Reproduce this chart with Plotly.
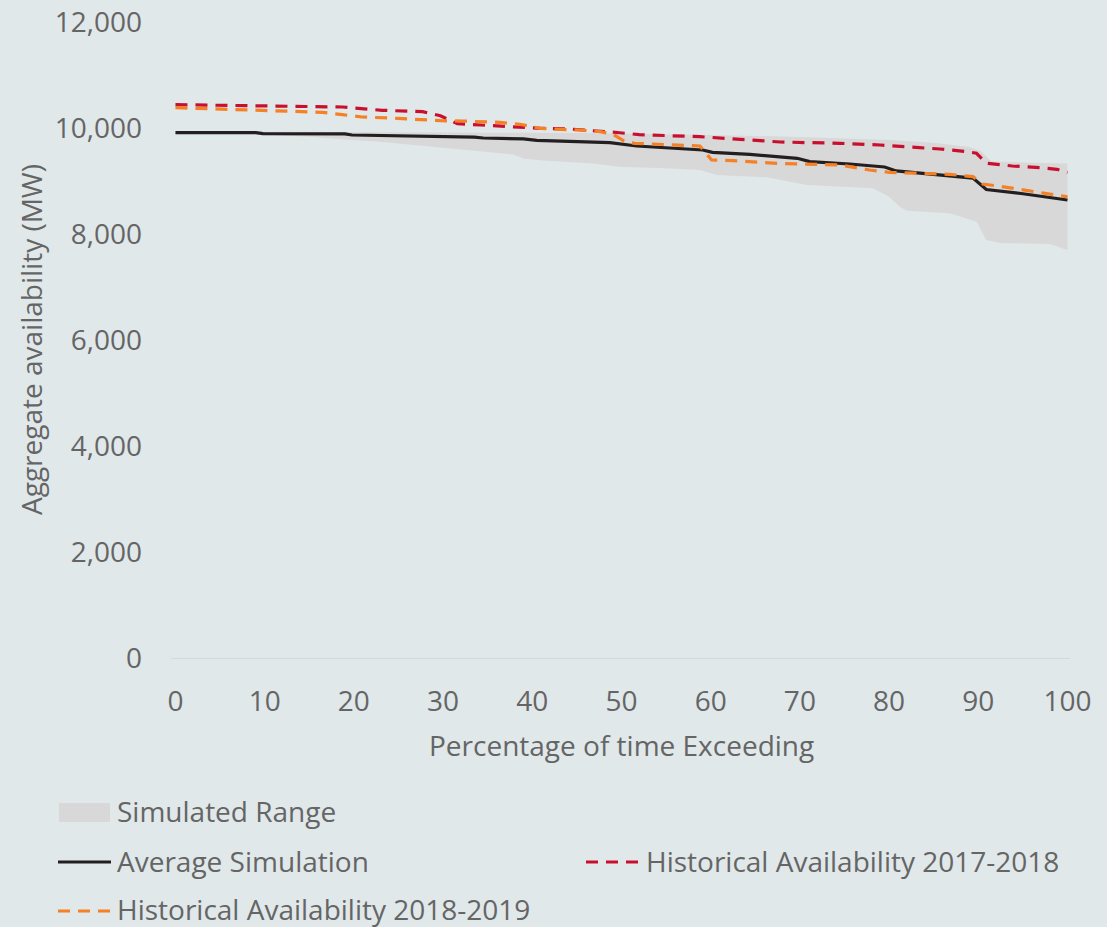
import plotly.graph_objects as go

# Exceedance curves: percentage of time (x) vs aggregate availability in MW (y)
avg_x = [0, 9, 9.8, 19, 19.8, 25, 30, 33.5, 34.5, 39, 40.5, 45, 48.7, 51.7, 56.2,
         59.1, 60.2, 64.4, 69.7, 71.1, 75.6, 79.5, 80.8, 85, 89.4, 90.9, 95, 100]
avg_y = [9912, 9912, 9893, 9890, 9868, 9855, 9836, 9828, 9811, 9795, 9765, 9745, 9723, 9660, 9617,
         9585, 9541, 9503, 9428, 9365, 9321, 9265, 9190, 9130, 9055, 8840, 8760, 8642]

hist1718_x = [0, 9.7, 18.7, 23.2, 27.7, 29.7, 31.6, 34.2, 36.4, 38.6, 40.9, 44.2, 47.6, 49.8, 52,
              55.4, 58.8, 63.3, 67.8, 74.5, 79, 83.4, 85.7, 88.7, 89.8, 90.9, 93.8, 96.9, 98.8, 100]
hist1718_y = [10440, 10425, 10396, 10334, 10308, 10232, 10081, 10057, 10038, 10025, 9994, 9981, 9943, 9911, 9874,
              9849, 9836, 9786, 9736, 9711, 9679, 9629, 9604, 9554, 9523, 9334, 9283, 9252, 9221, 9160]

hist1819_x = [0, 9.7, 16.5, 18.7, 20.9, 24.9, 27.7, 29.7, 32.1, 34.2, 36.4, 38.6, 40.9, 43.1, 45.3,
              47.6, 49, 50.4, 51.5, 58.8, 60.1, 62.5, 67.4, 74.5, 77.8, 80, 86.8, 89.4, 90.5,
              93.2, 98.3, 100]
hist1819_y = [10384, 10326, 10296, 10252, 10208, 10182, 10157, 10138, 10132, 10120, 10106, 10070, 9994, 9975, 9962,
              9930, 9887, 9742, 9711, 9660, 9396, 9383, 9333, 9302, 9208, 9164, 9126, 9082, 8943,
              8881, 8736, 8700]

range_hi_x = [0, 30, 45, 50, 60, 70, 75, 80, 85, 89, 90.3, 91.5, 95, 100]
range_hi_y = [9935, 9920, 9905, 9895, 9870, 9830, 9800, 9775, 9720, 9640, 9560, 9370, 9350, 9330]

range_lo_x = [0, 9.2, 15, 19.3, 22.6, 25.2, 27.8, 31.6, 35, 37.9, 39, 41.2, 46.8, 49.8, 52, 55,
              58.8, 60.7, 66.3, 70.8, 78.2, 80, 81.2, 82, 86.8, 89.8, 90.9, 92.4, 98, 100]
range_lo_y = [9912, 9880, 9836, 9780, 9745, 9690, 9650, 9600, 9545, 9500, 9425, 9385, 9330, 9270, 9255, 9239,
              9208, 9113, 9069, 8924, 8862, 8704, 8516, 8440, 8390, 8233, 7887, 7830, 7811, 7698]

x_ticks = list(range(0, 101, 10))
y_ticks = list(range(0, 12001, 2000))

BG = "#E0E8EA"
BAND = "#D8D8D8"
BLACK = "#231F20"
RED = "#C8102E"
ORANGE = "#F58025"
TEXT = "#656565"
FONT = "Open Sans"
DASH = "12px,8px"

fig = go.Figure()

# Simulated range: band between lower and upper envelope (closed polygon)
fig.add_trace(go.Scatter(
    x=range_hi_x + range_lo_x[::-1], y=range_hi_y + range_lo_y[::-1],
    fill="toself", fillcolor=BAND, line=dict(width=0), mode="lines",
    name="Simulated Range", hoverinfo="skip"))

fig.add_trace(go.Scatter(x=avg_x, y=avg_y, mode="lines", name="Average Simulation",
                         line=dict(color=BLACK, width=3.2)))
fig.add_trace(go.Scatter(x=hist1718_x, y=hist1718_y, mode="lines",
                         name="Historical Availability 2017-2018",
                         line=dict(color=RED, width=3.2, dash=DASH)))
fig.add_trace(go.Scatter(x=hist1819_x, y=hist1819_y, mode="lines",
                         name="Historical Availability 2018-2019",
                         line=dict(color=ORANGE, width=3.2, dash=DASH)))

W, H = 1107, 927
L, R, T, B = 171, 37, 22, 269
pw, ph = W - L - R, H - T - B


def px(xp):
    return (xp - L) / pw


def py(yp):
    return (H - B - yp) / ph


shapes = []
annotations = []

# Legend drawn below the plot area
shapes.append(dict(type="rect", xref="paper", yref="paper",
                   x0=px(59), x1=px(110), y0=py(822), y1=py(803),
                   fillcolor=BAND, line=dict(width=0)))
shapes.append(dict(type="line", xref="paper", yref="paper",
                   x0=px(58), x1=px(111), y0=py(862), y1=py(862),
                   line=dict(color=BLACK, width=3)))
shapes.append(dict(type="line", xref="paper", yref="paper",
                   x0=px(586), x1=px(639), y0=py(862), y1=py(862),
                   line=dict(color=RED, width=3, dash=DASH)))
shapes.append(dict(type="line", xref="paper", yref="paper",
                   x0=px(58), x1=px(110), y0=py(911), y1=py(911),
                   line=dict(color=ORANGE, width=3, dash=DASH)))

legend_items = [
    ("Simulated Range", 115, 811),
    ("Average Simulation", 115, 861),
    ("Historical Availability 2017-2018", 644, 861),
    ("Historical Availability 2018-2019", 115, 909),
]
for txt, lx, ly in legend_items:
    annotations.append(dict(text=txt, xref="paper", yref="paper", x=px(lx), y=py(ly),
                            xanchor="left", yanchor="middle", showarrow=False,
                            font=dict(family=FONT, size=28, color=TEXT)))

# Axis titles
annotations.append(dict(text="Aggregate availability (MW)", xref="paper", yref="paper",
                        x=px(31), y=py(340), xanchor="center", yanchor="middle",
                        textangle=-90, showarrow=False,
                        font=dict(family=FONT, size=28, color=TEXT)))
annotations.append(dict(text="Percentage of time Exceeding", xref="paper", yref="paper",
                        x=px(621), y=py(745), xanchor="center", yanchor="middle",
                        showarrow=False, font=dict(family=FONT, size=28, color=TEXT)))

fig.update_layout(
    width=W, height=H,
    margin=dict(l=L, r=R, t=T, b=B, pad=0, autoexpand=False),
    paper_bgcolor=BG, plot_bgcolor=BG,
    showlegend=False,
    font=dict(family=FONT, size=28, color=TEXT),
    shapes=shapes, annotations=annotations,
)
fig.update_xaxes(range=[-0.5, 100.28], tickvals=x_ticks, ticktext=[str(v) for v in x_ticks],
                 showgrid=False, zeroline=False, showline=True, linecolor="#D6D9DA",
                 linewidth=1, ticks="", ticklabelstandoff=18, automargin=False,
                 tickfont=dict(family=FONT, size=28, color=TEXT))
fig.update_yaxes(range=[0, 12000], tickvals=y_ticks, ticktext=[f"{v:,}" for v in y_ticks],
                 showgrid=False, zeroline=False, showline=False, ticks="",
                 ticklabelstandoff=28, automargin=False,
                 tickfont=dict(family=FONT, size=28, color=TEXT))

fig.write_html("out.html")
